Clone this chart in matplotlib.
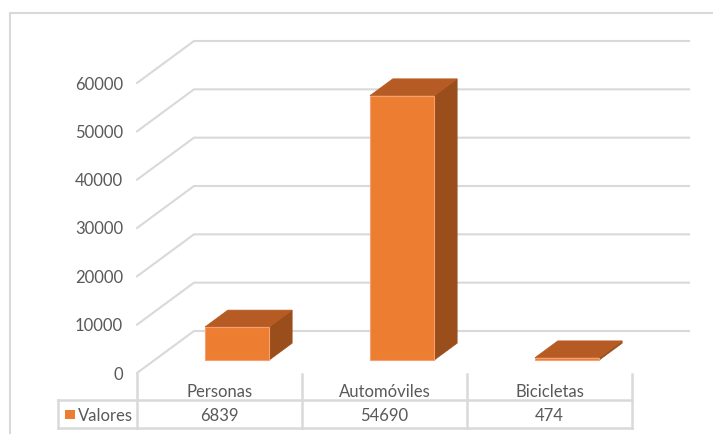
import matplotlib
matplotlib.use("Agg")
import matplotlib.pyplot as plt
from matplotlib.patches import Polygon, Rectangle
from matplotlib.lines import Line2D
from matplotlib.transforms import blended_transform_factory

categories = ["Personas", "Automóviles", "Bicicletas"]
values = [6839, 54690, 474]
series_name = "Valores"
yticks = [0, 10000, 20000, 30000, 40000, 50000, 60000]

W, H = 713, 434
fig = plt.figure(figsize=(W / 100, H / 100), dpi=100)
fig.patch.set_facecolor("white")
plt.rcParams['font.family'] = ['Lato', 'DejaVu Sans']

TXT = "#595959"
GRID = "#d9d9d9"
FRONT = "#ED7D31"
TOP = "#B65B23"
SIDE = "#9A4E1C"

# front plane of the 3D plot area (pixels)
x0, x1 = 137, 632
yb, yt = 373, 83
ax = fig.add_axes([x0 / W, 1 - yb / H, (x1 - x0) / W, (yb - yt) / H])
ax.set_xlim(-0.5, 2.5)
ax.set_ylim(0, 60000)
for s in ax.spines.values():
    s.set_visible(False)
ax.patch.set_alpha(0)

# depth shear (data units per unit depth)
px_per_cat = (x1 - x0) / 3.0
px_per_val = (yb - yt) / 60000.0
DX = 57 / px_per_cat
DY = 42 / px_per_val


def P(x, v, d):
    return (x + d * DX, v + d * DY)


# gridlines: front-left diagonal + back wall
for v in yticks:
    pts = [P(-0.5, v, 0), P(-0.5, v, 1), P(2.5, v, 1)]
    ax.add_line(Line2D([p[0] for p in pts], [p[1] for p in pts], color=GRID,
                       lw=1.5, clip_on=False, zorder=1))

# bars
bw = 0.39
d0, d1 = 0.31, 0.71
for i, v in enumerate(values):
    xl, xr = i - bw / 2, i + bw / 2
    front = [P(xl, 0, d0), P(xr, 0, d0), P(xr, v, d0), P(xl, v, d0)]
    side = [P(xr, 0, d0), P(xr, 0, d1), P(xr, v, d1), P(xr, v, d0)]
    top = [P(xl, v, d0), P(xr, v, d0), P(xr, v, d1), P(xl, v, d1)]
    ax.add_patch(Polygon(side, closed=True, fc=SIDE, ec=SIDE, lw=0.5, clip_on=False, zorder=3))
    ax.add_patch(Polygon(top, closed=True, fc=TOP, ec=TOP, lw=0.5, clip_on=False, zorder=3))
    ax.add_patch(Polygon(front, closed=True, fc=FRONT, ec="#F4A070", lw=0.8, clip_on=False, zorder=4))

ax.set_xticks([])
ax.set_yticks(yticks)
ax.set_yticklabels([str(t) for t in yticks], fontsize=12, color=TXT)
ax.tick_params(axis='y', length=0, pad=10)

# data table
bt = blended_transform_factory(ax.transData, fig.transFigure)
def fy(py):
    return 1 - py / H

bounds = [-0.5, 0.5, 1.5, 2.5]
for b in bounds:
    fig.add_artist(Line2D([b, b], [fy(374), fy(428)], transform=bt, color=GRID, lw=1.8))
fig.add_artist(Line2D([58 / W, x1 / W], [fy(400), fy(400)], transform=fig.transFigure, color=GRID, lw=1.8))
fig.add_artist(Line2D([58 / W, x1 / W], [fy(428), fy(428)], transform=fig.transFigure, color=GRID, lw=1.8))
fig.add_artist(Line2D([58 / W, 58 / W], [fy(400), fy(428)], transform=fig.transFigure, color=GRID, lw=1.8))

for i, c in enumerate(categories):
    fig.text(i, fy(392), c, transform=bt, ha='center', va='center', fontsize=12, color=TXT)
    fig.text(i, fy(416), str(values[i]), transform=bt, ha='center', va='center', fontsize=12, color=TXT)

fig.add_artist(Rectangle((65 / W, fy(419)), 10 / W, 9 / H, transform=fig.transFigure,
                         fc=FRONT, ec='none'))
fig.text(78 / W, fy(416), series_name, ha='left', va='center', fontsize=12, color=TXT)

# chart border
fig.add_artist(Line2D([9.5 / W, 9.5 / W], [fy(13), 0], transform=fig.transFigure, color=GRID, lw=1.5))
fig.add_artist(Line2D([9.5 / W, 1], [fy(13), fy(13)], transform=fig.transFigure, color=GRID, lw=1.5))

fig.savefig("out.png", dpi=100)
